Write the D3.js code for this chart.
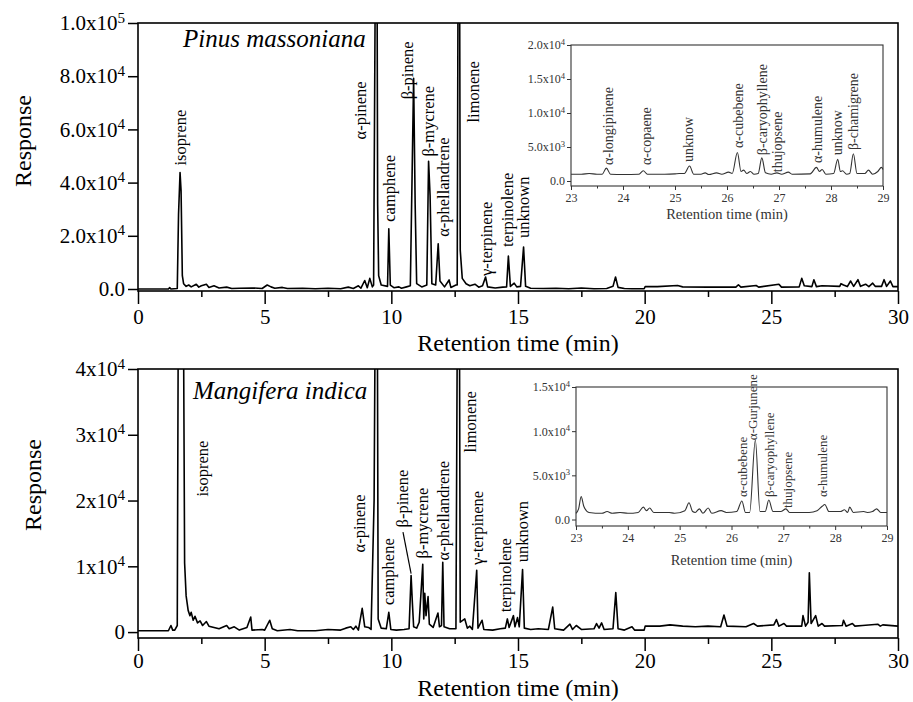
<!DOCTYPE html>
<html>
<head>
<meta charset="utf-8">
<script src="https://cdn.jsdelivr.net/npm/d3@7"></script>
<style>
  body { margin: 0; background: #fff; }
  text { font-family: "Liberation Serif", "Times New Roman", serif; }
</style>
</head>
<body>
<svg id="chart" width="913" height="702" font-family="Liberation Serif"></svg>
<script>
// --- chromatogram traces: [retention time (min), response] ---
const pinusTrace = [
  [0, 0], [1.2, 0], [1.25, 500], [1.3, 0], [1.55, 200], [1.6, 28000], [1.66, 43800], [1.7, 37000],
  [1.75, 5000], [1.8, 2000], [1.9, 1000], [2.0, 1500], [2.1, 800], [2.3, 1800], [2.4, 700], [2.5, 1200],
  [2.7, 1800], [2.8, 600], [3.0, 1200], [3.2, 400], [3.5, 700], [3.7, 200], [4.0, 300], [4.5, 400],
  [4.9, 200], [5.1, 1500], [5.25, 800], [5.4, 300], [5.7, 600], [5.9, 200], [6.5, 300], [7.0, 100],
  [7.5, 300], [8.0, 100], [8.3, 700], [8.5, 200], [8.7, 1200], [8.8, 300], [8.95, 3200], [9.05, 500],
  [9.15, 4000], [9.25, 800], [9.3, 1500], [9.38, 140000], [9.43, 140000], [9.46, 31700], [9.5, 5000],
  [9.6, 1500], [9.85, 1000], [9.9, 22600], [9.96, 1500], [10.1, 500], [10.3, 800], [10.4, 300],
  [10.6, 800], [10.75, 1200], [10.82, 43000], [10.88, 79200], [10.94, 32000], [11.0, 2000], [11.2, 800],
  [11.4, 1500], [11.47, 48000], [11.53, 35000], [11.6, 2000], [11.75, 1500], [11.85, 17000],
  [11.92, 3000], [12.1, 800], [12.28, 3400], [12.35, 600], [12.55, 1500], [12.6, 1500], [12.64, 140000],
  [12.69, 140000], [12.72, 14600], [12.8, 4000], [12.95, 2000], [13.1, 1200], [13.3, 1800], [13.45, 700],
  [13.6, 1200], [13.72, 4500], [13.8, 800], [14.1, 400], [14.4, 700], [14.55, 800], [14.62, 12400],
  [14.7, 1000], [14.85, 2200], [14.95, 800], [15.1, 1000], [15.22, 15800], [15.3, 1000], [15.5, 300],
  [16.0, 200], [16.5, 300], [17.0, 100], [17.5, 400], [18.0, 100], [18.5, 200], [18.75, 1000],
  [18.85, 4500], [18.95, 600], [19.2, 200], [19.5, 100], [19.98, 100], [20.02, 900], [20.5, 900],
  [21.3, 1300], [21.5, 800], [22.5, 700], [23.6, 700], [23.7, 1600], [23.8, 700], [24.4, 1300],
  [24.5, 700], [25.3, 1800], [25.4, 700], [26.1, 800], [26.2, 4000], [26.3, 1200], [26.6, 900],
  [26.68, 3500], [26.78, 900], [27.0, 1200], [27.7, 1000], [27.75, 2000], [27.85, 1500], [28.0, 900],
  [28.13, 3000], [28.25, 1000], [28.42, 3500], [28.52, 1000], [28.72, 1800], [28.85, 900], [29.0, 2200],
  [29.1, 1000], [29.35, 1000], [29.45, 3500], [29.55, 1000], [29.7, 3000], [29.8, 900], [30, 900]
];

const mangiferaTrace = [
  [0, 200], [1.2, 200], [1.3, 1000], [1.37, 300], [1.45, 300], [1.55, 1000], [1.6, 60000], [1.78, 60000],
  [1.84, 10500], [1.9, 5500], [1.98, 3300], [2.05, 2500], [2.1, 3000], [2.18, 1800], [2.25, 2400],
  [2.35, 1400], [2.45, 1700], [2.55, 1000], [2.7, 1600], [2.8, 900], [3.0, 700], [3.2, 500], [3.5, 1000],
  [3.6, 500], [3.8, 800], [4.0, 300], [4.3, 700], [4.45, 2300], [4.5, 300], [4.9, 400], [5.0, 300],
  [5.2, 1800], [5.3, 500], [5.5, 200], [6.0, 400], [6.3, 200], [7.0, 200], [7.5, 400], [8.0, 300],
  [8.2, 600], [8.4, 800], [8.5, 400], [8.6, 900], [8.7, 300], [8.85, 3600], [8.95, 800], [9.1, 700],
  [9.2, 400], [9.32, 20000], [9.38, 60000], [9.44, 60000], [9.48, 2000], [9.6, 600], [9.8, 500],
  [9.9, 3000], [9.98, 400], [10.2, 300], [10.5, 400], [10.7, 500], [10.78, 8600], [10.83, 4500],
  [10.88, 800], [11.0, 600], [11.1, 1500], [11.24, 10300], [11.28, 2000], [11.32, 5900], [11.37, 2500],
  [11.45, 5400], [11.5, 1200], [11.65, 700], [11.84, 2900], [11.9, 800], [11.98, 1000], [12.03, 10600],
  [12.08, 800], [12.3, 500], [12.55, 500], [12.62, 60000], [12.68, 60000], [12.72, 1500], [12.9, 2000],
  [13.0, 600], [13.1, 900], [13.2, 400], [13.37, 9400], [13.42, 600], [13.58, 1800], [13.65, 400],
  [14.0, 300], [14.3, 500], [14.5, 600], [14.58, 2000], [14.65, 700], [14.82, 2500], [14.88, 800],
  [14.98, 2200], [15.05, 800], [15.18, 9500], [15.25, 600], [15.5, 400], [15.8, 500], [16.2, 400],
  [16.37, 3800], [16.45, 500], [16.8, 300], [17.05, 1200], [17.15, 400], [17.3, 1000], [17.5, 400],
  [18.0, 500], [18.1, 1300], [18.2, 600], [18.3, 1400], [18.4, 400], [18.75, 500], [18.86, 6000],
  [18.95, 500], [19.2, 300], [19.5, 800], [19.6, 300], [19.98, 300], [20.02, 900], [20.6, 900],
  [21.0, 1100], [21.5, 900], [22.0, 800], [22.5, 900], [23.0, 800], [23.13, 2600], [23.25, 900],
  [24.0, 800], [24.3, 1300], [24.45, 900], [25.1, 1100], [25.2, 1900], [25.3, 900], [25.5, 1300],
  [25.6, 900], [26.2, 900], [26.25, 2500], [26.35, 900], [26.45, 1500], [26.5, 9000], [26.57, 1300],
  [26.75, 2500], [26.85, 900], [27.0, 1300], [27.1, 900], [27.8, 1000], [27.85, 1800], [27.95, 900],
  [28.2, 1300], [28.3, 900], [28.6, 1000], [29.2, 1200], [29.3, 900], [29.4, 1100], [30, 900]
];

const pinusInsetTrace = [
  [23.0, 1000], [23.2, 1000], [23.35, 1100], [23.5, 1000], [23.6, 1000], [23.68, 1900], [23.76, 1000],
  [24.0, 950], [24.3, 1000], [24.39, 1500], [24.47, 1000], [24.8, 1000], [25.0, 1050], [25.08, 1100],
  [25.18, 1100], [25.28, 2200], [25.36, 1000], [25.5, 1000], [25.58, 1200], [25.65, 950], [25.8, 1200],
  [25.9, 1000], [26.03, 1300], [26.1, 1100], [26.2, 4200], [26.27, 1400], [26.32, 1600], [26.38, 1100],
  [26.45, 1400], [26.52, 1000], [26.6, 1100], [26.67, 3400], [26.74, 1200], [26.85, 1000], [26.96, 1200],
  [27.05, 1000], [27.18, 1300], [27.25, 1000], [27.6, 1050], [27.72, 2000], [27.78, 1400], [27.83, 1700],
  [27.9, 1000], [28.05, 1100], [28.13, 3200], [28.18, 1400], [28.22, 1500], [28.3, 1000], [28.36, 1100],
  [28.43, 4000], [28.5, 1100], [28.65, 1100], [28.72, 1600], [28.8, 1000], [28.9, 1400], [28.97, 2000],
  [29.0, 1700]
];

const mangiferaInsetTrace = [
  [23.0, 700], [23.05, 1200], [23.1, 2600], [23.15, 1500], [23.25, 800], [23.5, 700], [23.6, 900],
  [23.7, 700], [23.85, 800], [24.0, 700], [24.2, 800], [24.3, 1400], [24.36, 1000], [24.42, 1300],
  [24.5, 800], [24.8, 800], [24.9, 700], [25.1, 1000], [25.18, 1900], [25.25, 900], [25.3, 800],
  [25.38, 1200], [25.45, 700], [25.55, 1300], [25.62, 700], [25.8, 1000], [25.9, 800], [26.1, 900],
  [26.2, 2100], [26.27, 800], [26.35, 800], [26.46, 9000], [26.55, 900], [26.65, 900], [26.72, 2200],
  [26.8, 900], [26.95, 900], [27.05, 1200], [27.12, 800], [27.5, 800], [27.65, 1000], [27.75, 1500],
  [27.8, 1700], [27.88, 900], [28.1, 900], [28.18, 1100], [28.24, 800], [28.28, 1400], [28.35, 800],
  [28.55, 900], [28.62, 800], [28.72, 900], [28.8, 1200], [28.88, 800], [29.0, 800]
];

// --- peak names: name, retention time, response level where the label starts ---
const pinusPeaks = ["isoprene", "α-pinene", "camphene", "β-pinene", "β-mycrene", "α-phellandrene",
  "limonene", "γ-terpinene", "terpinolene", "unknown"];
const pinusPeakTimes = [1.66, 8.76, 9.91, 10.62, 11.45, 12.04, 13.23, 13.74, 14.57, 15.2];
const pinusPeakLevels = [46400, 56200, 25300, 71300, 49800, 19600, 62600, 4900, 15800, 19200];

const mangiferaPeaks = ["isoprene", "α-pinene", "camphene", "β-pinene", "β-mycrene", "α-phellandrene",
  "limonene", "γ-terpinene", "terpinolene", "unknown"];
const mangiferaPeakTimes = [2.53, 8.72, 9.87, 10.42, 11.21, 12.04, 13.11, 13.38, 14.49, 15.16];
const mangiferaPeakLevels = [20600, 12100, 4100, 15900, 11200, 10900, 27300, 10200, 3000, 10600];

const pinusInsetPeaks = ["α-longipinene", "α-copaene", "unknow", "α-cubebene", "β-caryophyllene",
  "thujopsene", "α-humulene", "unknow", "β-chamigrene"];
const pinusInsetTimes = [23.71, 24.44, 25.25, 26.21, 26.67, 26.96, 27.73, 28.12, 28.42];
const pinusInsetLevels = [2350, 2350, 2800, 4850, 3800, 1300, 2650, 3800, 4550];

const mangiferaInsetPeaks = ["α-cubebene", "α-Gurjunene", "β-caryophyllene", "thujopsene", "α-humulene"];
const mangiferaInsetTimes = [26.22, 26.4, 26.74, 27.07, 27.75];
const mangiferaInsetLevels = [2540, 8980, 2540, 1300, 2540];

// --- ticks ---
const xTicks = [0, 5, 10, 15, 20, 25, 30];
const xMinorTicks = [2.5, 7.5, 12.5, 17.5, 22.5, 27.5];
const pinusYTicks = [0, 20000, 40000, 60000, 80000, 100000];
const pinusYTickText = ["0.0", "2.0x10^4", "4.0x10^4", "6.0x10^4", "8.0x10^4", "1.0x10^5"];
const mangiferaYTicks = [0, 10000, 20000, 30000, 40000];
const mangiferaYTickText = ["0", "1x10^4", "2x10^4", "3x10^4", "4x10^4"];
const insetXTicks = [23, 24, 25, 26, 27, 28, 29];
const insetXMinorTicks = [23.5, 24.5, 25.5, 26.5, 27.5, 28.5];
const pinusInsetYTicks = [0, 5000, 10000, 15000, 20000];
const pinusInsetYTickText = ["0.0", "5.0x10^3", "1.0x10^4", "1.5x10^4", "2.0x10^4"];
const mangiferaInsetYTicks = [0, 5000, 10000, 15000];
const mangiferaInsetYTickText = ["0.0", "5.0x10^3", "1.0x10^4", "1.5x10^4"];

const svg = d3.select("#chart");

function superscriptTicks(g, labels) {
    g.selectAll(".tick text").each(function(d, i) {
        const parts = labels[i].split("^");
        const t = d3.select(this).text(parts[0]);
        if (parts[1]) {
            t.append("tspan").attr("dy", "-0.5em").attr("font-size", "0.72em").text(parts[1]);
        }
    });
}

function drawPanel(p) {
    const x = d3.scaleLinear().domain([0, 30]).range([p.left, p.right]);
    const y = d3.scaleLinear().domain(p.yDomain).range([p.bottom, p.top]);
    const g = svg.append("g");

    g.append("clipPath").attr("id", p.id + "-clip")
        .append("rect")
        .attr("x", p.left).attr("y", p.top)
        .attr("width", p.right - p.left).attr("height", p.bottom - p.top);

    g.append("path")
        .datum(p.trace)
        .attr("clip-path", `url(#${p.id}-clip)`)
        .attr("fill", "none")
        .attr("stroke", "#000")
        .attr("stroke-width", 1.6)
        .attr("stroke-linejoin", "round")
        .attr("d", d3.line().x(d => x(d[0])).y(d => y(d[1])));

    g.append("g")
        .attr("transform", `translate(0,${p.bottom})`)
        .call(d3.axisBottom(x).tickValues(xTicks).tickSize(13).tickPadding(p.xPad).tickFormat(d3.format("d")));
    g.append("g")
        .attr("transform", `translate(0,${p.bottom})`)
        .call(d3.axisBottom(x).tickValues(xMinorTicks).tickSize(6).tickFormat(""));
    const yAxis = g.append("g")
        .attr("transform", `translate(${p.left},0)`)
        .call(d3.axisLeft(y).tickValues(p.yTicks).tickSize(10).tickPadding(3));
    superscriptTicks(yAxis, p.yTickText);

    g.selectAll(".domain").remove();
    g.selectAll(".tick line").attr("stroke", "#000").attr("stroke-width", 1.5);
    g.selectAll(".tick text").attr("fill", "#000").attr("font-size", 21)
        .attr("font-family", "Liberation Serif");

    g.append("rect")
        .attr("x", p.left).attr("y", p.top)
        .attr("width", p.right - p.left).attr("height", p.bottom - p.top)
        .attr("fill", "none").attr("stroke", "#000").attr("stroke-width", 1.6);

    g.append("text")
        .attr("x", (p.left + p.right) / 2).attr("y", p.xTitleY)
        .attr("text-anchor", "middle").attr("font-size", 24)
        .text("Retention time (min)");
    g.append("text")
        .attr("transform", `translate(${p.yTitleX},${p.yTitleY}) rotate(-90)`)
        .attr("text-anchor", "middle").attr("dy", "0.35em").attr("font-size", 24)
        .text("Response");

    g.append("text")
        .attr("x", p.titleX).attr("y", p.titleY)
        .attr("font-size", 25).attr("font-style", "italic")
        .text(p.title);

    g.selectAll(".peak")
        .data(p.peaks)
        .enter().append("text")
        .attr("transform", (d, i) => `translate(${x(p.peakTimes[i])},${y(p.peakLevels[i])}) rotate(-90)`)
        .attr("dy", "0.35em").attr("font-size", 16.5)
        .text(d => d);

    if (p.leader) {
        g.append("line")
            .attr("x1", x(p.leader[0][0])).attr("y1", y(p.leader[0][1]))
            .attr("x2", x(p.leader[1][0])).attr("y2", y(p.leader[1][1]))
            .attr("stroke", "#000").attr("stroke-width", 1.2);
    }

    if (p.inset) drawInset(p.inset);
}

function drawInset(p) {
    const x = d3.scaleLinear().domain([23, 29]).range([p.left, p.right]);
    const y = d3.scaleLinear().domain(p.yDomain).range([p.bottom, p.top]);
    const g = svg.append("g");
    const ink = "#333";

    g.append("path")
        .datum(p.trace)
        .attr("fill", "none")
        .attr("stroke", ink)
        .attr("stroke-width", 1.1)
        .attr("d", d3.line().x(d => x(d[0])).y(d => y(d[1])).curve(d3.curveMonotoneX));

    g.append("g")
        .attr("transform", `translate(0,${p.bottom})`)
        .call(d3.axisBottom(x).tickValues(insetXTicks).tickSize(4).tickPadding(3).tickFormat(d3.format("d")));
    g.append("g")
        .attr("transform", `translate(0,${p.bottom})`)
        .call(d3.axisBottom(x).tickValues(insetXMinorTicks).tickSize(2.5).tickFormat(""));
    const yAxis = g.append("g")
        .attr("transform", `translate(${p.left},0)`)
        .call(d3.axisLeft(y).tickValues(p.yTicks).tickSize(4).tickPadding(2));
    superscriptTicks(yAxis, p.yTickText);

    g.selectAll(".domain").remove();
    g.selectAll(".tick line").attr("stroke", ink);
    g.selectAll(".tick text").attr("fill", ink).attr("font-size", 12)
        .attr("font-family", "Liberation Serif");

    g.append("rect")
        .attr("x", p.left).attr("y", p.top)
        .attr("width", p.right - p.left).attr("height", p.bottom - p.top)
        .attr("fill", "none").attr("stroke", ink).attr("stroke-width", 1.1);

    g.append("text")
        .attr("x", (p.left + p.right) / 2).attr("y", p.xTitleY)
        .attr("text-anchor", "middle").attr("font-size", 14.5).attr("fill", ink)
        .text("Retention time (min)");

    g.selectAll(".peak")
        .data(p.peaks)
        .enter().append("text")
        .attr("transform", (d, i) => `translate(${x(p.peakTimes[i])},${y(p.peakLevels[i])}) rotate(-90)`)
        .attr("dy", "0.35em").attr("font-size", p.labelSize).attr("fill", ink)
        .text(d => d);
}

drawPanel({
    id: "pinus", title: "Pinus massoniana", titleX: 183, titleY: 47,
    left: 138, right: 898, top: 23, bottom: 291, yDomain: [-750, 100000],
    xPad: 5, xTitleY: 351, yTitleX: 23, yTitleY: 141,
    trace: pinusTrace, yTicks: pinusYTicks, yTickText: pinusYTickText,
    peaks: pinusPeaks, peakTimes: pinusPeakTimes, peakLevels: pinusPeakLevels,
    inset: {
        left: 571, right: 883, top: 45, bottom: 186, yDomain: [-735, 20000], xTitleY: 219,
        trace: pinusInsetTrace, yTicks: pinusInsetYTicks, yTickText: pinusInsetYTickText,
        peaks: pinusInsetPeaks, peakTimes: pinusInsetTimes, peakLevels: pinusInsetLevels, labelSize: 14
    }
});

drawPanel({
    id: "mangifera", title: "Mangifera indica", titleX: 193, titleY: 399,
    left: 138, right: 898, top: 369, bottom: 638, yDomain: [-900, 40000],
    xPad: 2, xTitleY: 696, yTitleX: 33, yTitleY: 485,
    trace: mangiferaTrace, yTicks: mangiferaYTicks, yTickText: mangiferaYTickText,
    peaks: mangiferaPeaks, peakTimes: mangiferaPeakTimes, peakLevels: mangiferaPeakLevels,
    leader: [[10.46, 15200], [10.78, 8900]],
    inset: {
        left: 576, right: 887, top: 387, bottom: 526, yDomain: [-735, 15000], xTitleY: 565,
        trace: mangiferaInsetTrace, yTicks: mangiferaInsetYTicks, yTickText: mangiferaInsetYTickText,
        peaks: mangiferaInsetPeaks, peakTimes: mangiferaInsetTimes, peakLevels: mangiferaInsetLevels, labelSize: 13
    }
});
</script>
</body>
</html>
